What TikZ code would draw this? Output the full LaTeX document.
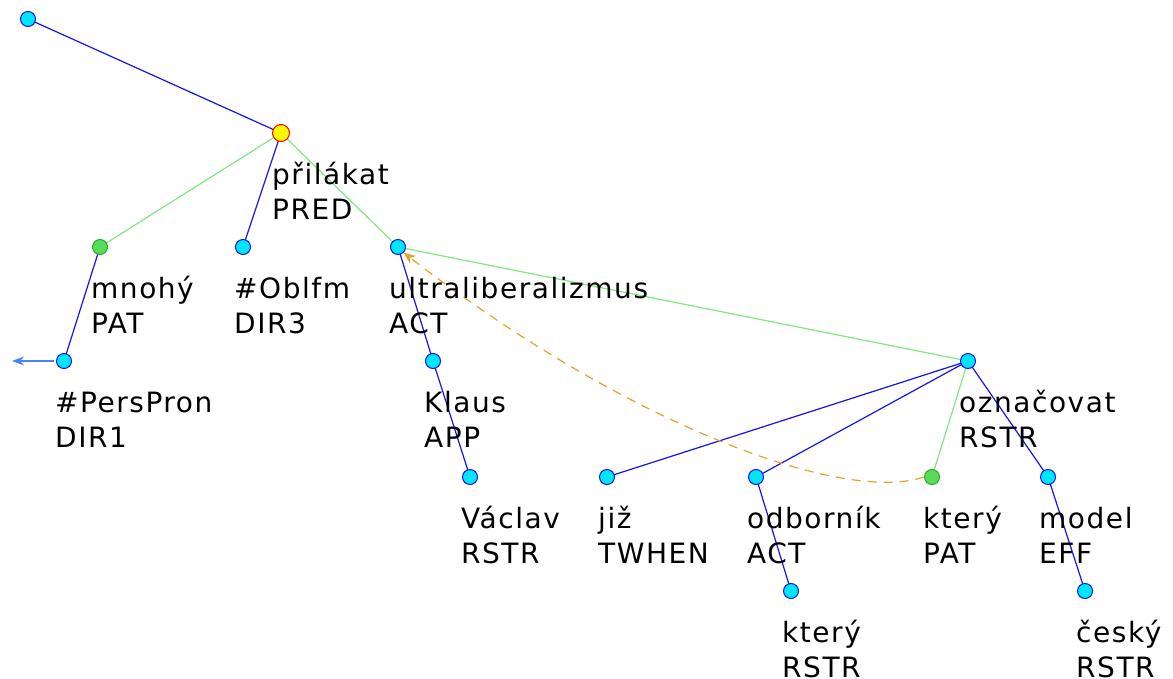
\documentclass[tikz,border=0pt]{standalone}
\usepackage{fontspec}
\setmainfont[LetterSpace=5.5]{DejaVu Sans}
\usetikzlibrary{arrows.meta,calc}
\definecolor{ncyan}{RGB}{0,230,255}
\definecolor{nblue}{RGB}{20,20,240}
\definecolor{egreen}{RGB}{130,230,130}
\definecolor{ngreen}{RGB}{90,220,90}
\definecolor{ngreenb}{RGB}{40,170,40}
\definecolor{norange}{RGB}{225,165,40}
\definecolor{nyellow}{RGB}{255,250,0}
\definecolor{ared}{RGB}{70,130,255}
\tikzset{
  tn/.style={circle,minimum size=15pt,inner sep=0,fill=ncyan,draw=nblue,line width=1pt},
  gn/.style={circle,minimum size=15pt,inner sep=0,fill=ngreen,draw=ngreenb,line width=1pt},
  yn/.style={circle,minimum size=17pt,inner sep=0,fill=nyellow,draw=red,line width=1pt},
  be/.style={draw=nblue,line width=1.2pt},
  ge/.style={draw=egreen,line width=1.2pt},
  lab/.style={anchor=north west,inner sep=0,align=left,font=\fontsize{28}{35}\selectfont},
}
\newcommand{\lb}[2]{\strut #1\\\strut #2}
\begin{document}
\begin{tikzpicture}[x=1pt,y=-1pt]
\useasboundingbox (0,0) rectangle (1173,679);
% node positions
\coordinate (pr) at (28,19);
\coordinate (pp) at (281,133);
\coordinate (pm) at (100,247);
\coordinate (pob) at (243,247);
\coordinate (pul) at (398,247);
\coordinate (ppe) at (64,361);
\coordinate (pkl) at (433,361);
\coordinate (pva) at (470,477);
\coordinate (poz) at (968,361);
\coordinate (pji) at (607,477);
\coordinate (pod) at (756,477);
\coordinate (pkt) at (932,477);
\coordinate (pmo) at (1048,477);
\coordinate (pkr) at (791,591);
\coordinate (pce) at (1085,591);
\coordinate (parr) at (12,361);
% edges
\draw[be] (pr) -- (pp);
\draw[ge] (pp) -- (pm);
\draw[be] (pp) -- (pob);
\draw[ge] (pp) -- (pul);
\draw[be] (pm) -- (ppe);
\draw[be] (pul) -- (pkl);
\draw[be] (pkl) -- (pva);
\draw[ge] (pul) -- (poz);
\draw[be] (poz) -- (pji);
\draw[be] (poz) -- (pod);
\draw[ge] (poz) -- (pkt);
\draw[be] (poz) -- (pmo);
\draw[be] (pod) -- (pkr);
\draw[be] (pmo) -- (pce);
% nodes
\node[tn] (r) at (pr) {};
\node[yn] (p) at (pp) {};
\node[gn] (m) at (pm) {};
\node[tn] (ob) at (pob) {};
\node[tn] (ul) at (pul) {};
\node[tn] (pe) at (ppe) {};
\node[tn] (kl) at (pkl) {};
\node[tn] (va) at (pva) {};
\node[tn] (oz) at (poz) {};
\node[tn] (ji) at (pji) {};
\node[tn] (od) at (pod) {};
\node[gn] (kt) at (pkt) {};
\node[tn] (mo) at (pmo) {};
\node[tn] (kr) at (pkr) {};
\node[tn] (ce) at (pce) {};
% arrow from #PersPron
\draw[draw=ared,line width=1.2pt,-{Stealth[length=12pt,width=9pt]}] (pe.west) ++(-2,0) -- (parr);
% coreference
\draw[norange,line width=1.2pt,dash pattern=on 9pt off 7pt,-{Stealth[length=12pt,width=10pt]}]
  (kt.west) .. controls (840,505) and (620,420) .. (ul.south east);
% labels
\node[lab] (lp) at ($(pp)+(-9,26.5)$) {\lb{přilákat}{PRED}};
\node[lab] (lm) at ($(pm)+(-9,26.5)$) {\lb{mnohý}{PAT}};
\node[lab] (lob) at ($(pob)+(-9,26.5)$) {\lb{\#Oblfm}{DIR3}};
\node[lab] (lul) at ($(pul)+(-9,26.5)$) {\lb{ultraliberalizmus}{ACT}};
\node[lab] (lpe) at ($(ppe)+(-9,26.5)$) {\lb{\#PersPron}{DIR1}};
\node[lab] (lkl) at ($(pkl)+(-9,26.5)$) {\lb{Klaus}{APP}};
\node[lab] (lva) at ($(pva)+(-9,26.5)$) {\lb{Václav}{RSTR}};
\node[lab] (loz) at ($(poz)+(-9,26.5)$) {\lb{označovat}{RSTR}};
\node[lab] (lji) at ($(pji)+(-9,26.5)$) {\lb{již}{TWHEN}};
\node[lab] (lod) at ($(pod)+(-9,26.5)$) {\lb{odborník}{ACT}};
\node[lab] (lkt) at ($(pkt)+(-9,26.5)$) {\lb{který}{PAT}};
\node[lab] (lmo) at ($(pmo)+(-9,26.5)$) {\lb{model}{EFF}};
\node[lab] (lkr) at ($(pkr)+(-9,26.5)$) {\lb{který}{RSTR}};
\node[lab] (lce) at ($(pce)+(-9,26.5)$) {\lb{český}{RSTR}};
\end{tikzpicture}
\end{document}
